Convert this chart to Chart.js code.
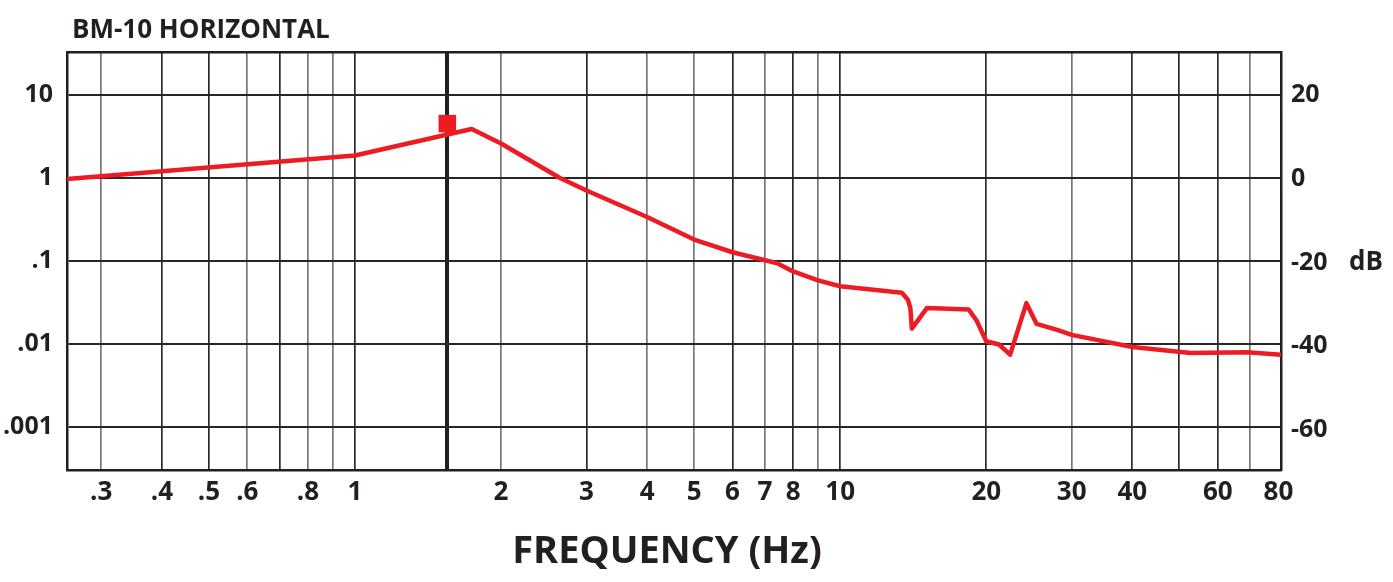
<!DOCTYPE html>
<html><head><meta charset="utf-8">
<script src="https://cdn.jsdelivr.net/npm/chart.js@4"></script>
<style>html,body{margin:0;padding:0;background:#fff;} canvas{display:block}</style>
</head><body>
<canvas id="c" width="1393" height="582"></canvas>
<script>
// ---- data ----
const chartTitle = 'BM-10 HORIZONTAL';
const xAxisTitle = 'FREQUENCY (Hz)';
const dbUnit = 'dB';
const frequencyHz = [0.255, 1, 1.74, 2, 2.64, 3, 4, 5, 6, 7, 7.43, 8, 9, 10, 13.4, 13.8, 13.95, 14.05, 15.1, 18.4, 19.1, 20, 21.25, 22.4, 24.2, 25.4, 28.1, 30, 40, 52.8, 69, 81];
const amplitude = [0.97, 1.86, 3.87, 2.59, 1.0, 0.704, 0.337, 0.180, 0.1266, 0.1014, 0.0929, 0.0743, 0.0581, 0.0492, 0.0412, 0.0336, 0.0270, 0.0152, 0.0270, 0.0258, 0.019, 0.0107, 0.00978, 0.00737, 0.0308, 0.0173, 0.01455, 0.01276, 0.00914, 0.0077, 0.00787, 0.00737];
const markerHz = [1.55];
const markerAmplitude = [4.5];
const resonanceHz = 1.55;
const xTickValues = [0.3,0.4,0.5,0.6,0.7,0.8,0.9,1,1.55,2,3,4,5,6,7,8,9,10,20,30,40,50,60,70,80];
const xTickLabels = ['.3','.4','.5','.6','','.8','','1','','2','3','4','5','6','7','8','','10','20','30','40','','60','','80'];
const yTickValues = [0.001,0.01,0.1,1,10];
const yTickLabels = ['.001','.01','.1','1','10'];
const dbTickValues = [-60,-40,-20,0,20];
const xMin = 0.255, xMax = 81;
const yMin = 0.000329, yMax = 32.86;

// ---- styling ----
const INK = '#231f20';
const lightGrid = [0.3,0.6,0.8,0.9,2,4,5,7,9,30,70];
const FONT = '"Open Sans", "DejaVu Sans", sans-serif';

const textPlugin = {
  id: 'texts',
  afterDraw(chart) {
    const c = chart.ctx;
    c.save();
    c.fillStyle = INK;
    c.textBaseline = 'alphabetic';
    c.textAlign = 'left';
    c.font = 'bold 26px ' + FONT;
    c.fillText(chartTitle, 72, 38);
    c.textAlign = 'center';
    c.font = 'bold 38px ' + FONT;
    c.fillText(xAxisTitle, 667, 563);
    c.textAlign = 'left';
    c.textBaseline = 'middle';
    c.font = 'bold 26px ' + FONT;
    const yy = chart.scales.yDb.getPixelForValue(-20);
    c.fillText(dbUnit, 1349, yy);
    c.restore();
  }
};

new Chart(document.getElementById('c').getContext('2d'), {
  type: 'line',
  data: {
    datasets: [
      {
        data: frequencyHz.map((f, i) => ({x: f, y: amplitude[i]})),
        borderColor: '#ed1c24', borderWidth: 4.5, pointRadius: 0, tension: 0,
        borderJoinStyle: 'round', borderCapStyle: 'round', fill: false,
        xAxisID: 'x', yAxisID: 'y', order: 2
      },
      {
        type: 'scatter',
        data: markerHz.map((f, i) => ({x: f, y: markerAmplitude[i]})),
        pointStyle: 'rect', pointRadius: 12.4, backgroundColor: '#ed1c24', borderWidth: 0,
        xAxisID: 'x', yAxisID: 'y', order: 1
      }
    ]
  },
  options: {
    responsive: false, animation: false, devicePixelRatio: 1,
    layout: {padding: 0},
    plugins: {legend: {display: false}, tooltip: {enabled: false}, title: {display: false}},
    scales: {
      x: {
        type: 'logarithmic', position: 'bottom', min: xMin, max: xMax,
        afterBuildTicks: s => { s.ticks = xTickValues.map(v => ({value: v})); },
        afterFit: s => { s.height = 112; },
        ticks: {autoSkip: false, maxRotation: 0, minRotation: 0, padding: 7, color: INK,
          font: {family: FONT, size: 26, weight: 'bold'},
          callback: (v, i) => xTickLabels[i]},
        grid: {
          drawTicks: false,
          color: c => {
            const v = c.tick ? c.tick.value : 0;
            if (v === 80) return 'rgba(0,0,0,0)';
            if (v === resonanceHz) return INK;
            return lightGrid.includes(v) ? '#777777' : '#2a2a2a';
          },
          lineWidth: c => (c.tick && c.tick.value === resonanceHz) ? 4 : 1.7
        },
        border: {display: true, color: INK, width: 2.5}
      },
      xTop: {
        type: 'logarithmic', position: 'top', min: xMin, max: xMax,
        afterFit: s => { s.height = 52; },
        ticks: {display: false}, grid: {display: false, drawTicks: false},
        border: {display: true, color: INK, width: 2.5}
      },
      y: {
        type: 'logarithmic', position: 'left', min: yMin, max: yMax,
        afterBuildTicks: s => { s.ticks = yTickValues.map(v => ({value: v})); },
        afterFit: s => { s.width = 67; },
        ticks: {autoSkip: false, padding: 14, color: INK,
          font: {family: FONT, size: 25, weight: 'bold'},
          callback: (v, i) => yTickLabels[i]},
        grid: {drawTicks: false, color: '#262626', lineWidth: 2},
        border: {display: true, color: INK, width: 2.5}
      },
      yDb: {
        type: 'linear', position: 'right',
        min: 20 * Math.log10(yMin), max: 20 * Math.log10(yMax),
        afterBuildTicks: s => { s.ticks = dbTickValues.map(v => ({value: v})); },
        afterFit: s => { s.width = 112; },
        ticks: {autoSkip: false, padding: 10, color: INK,
          font: {family: FONT, size: 25, weight: 'bold'},
          callback: v => String(v)},
        grid: {display: false, drawTicks: false},
        border: {display: true, color: INK, width: 2.5}
      }
    }
  },
  plugins: [textPlugin]
});
</script>
</body></html>
